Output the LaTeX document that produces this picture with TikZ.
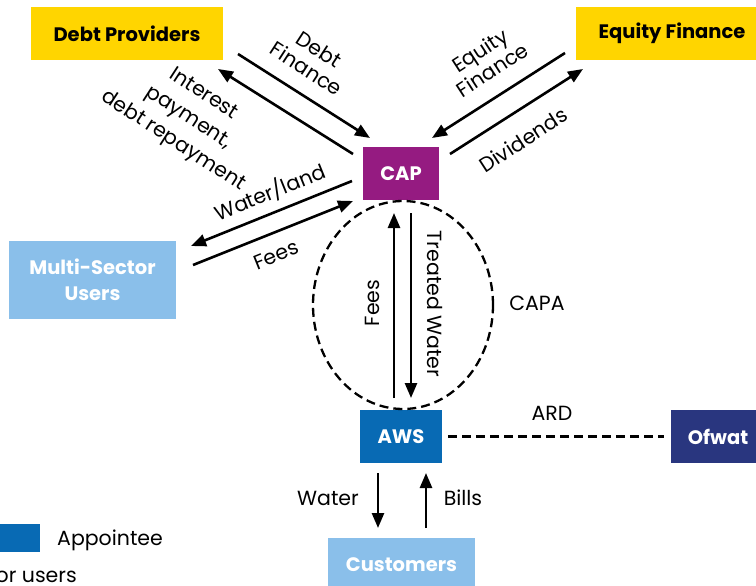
\documentclass[tikz,border=0pt]{standalone}
\usepackage{fontspec}
\setmainfont{Poppins}
\usetikzlibrary{arrows.meta,shapes.geometric}
\definecolor{cyel}{HTML}{FFD500}
\definecolor{cpur}{HTML}{951B81}
\definecolor{clb}{HTML}{8ABFEA}
\definecolor{cblue}{HTML}{086AB4}
\definecolor{cnavy}{HTML}{29367F}
\begin{document}
\begin{tikzpicture}[x=1pt,y=-1pt,
  box/.style={draw=none,inner sep=0pt,font=\bfseries\fontsize{19.5}{26}\selectfont,align=center},
  lbl/.style={font=\fontsize{20.5}{23}\selectfont,inner sep=0pt,align=center},
  arr/.style={line width=2.6pt,-{Triangle[length=15pt,width=12pt]}},
  dash2/.style={line width=2.3pt,dash pattern=on 9pt off 5pt},
]
\clip (0,0) rectangle (756,586);
\fill[white] (0,0) rectangle (756,586);

\node[box,fill=cyel,minimum width=192pt,minimum height=53pt] (debt) at (127,33.5) {Debt Providers};
\node[box,fill=cyel,minimum width=192pt,minimum height=53pt] (equity) at (672,33.5) {Equity Finance};
\node[box,fill=cpur,text=white,minimum width=76pt,minimum height=53pt] (cap) at (401,173.5) {CAP};
\node[box,fill=clb,text=white,minimum width=167pt,minimum height=78pt] (msu) at (92.5,280) {Multi-Sector\\Users};
\node[box,fill=cblue,text=white,minimum width=82pt,minimum height=53pt] (aws) at (401,436.5) {AWS};
\node[box,fill=cnavy,text=white,minimum width=94pt,minimum height=53pt] (ofwat) at (718,436.5) {Ofwat};
\node[box,fill=clb,text=white,minimum width=147pt,minimum height=54pt] (cust) at (401.5,565) {Customers};
\node[box,fill=cblue,minimum width=40pt,minimum height=28pt] (leg) at (20,538) {};
\node[lbl,anchor=west] (legt) at (57,540) {Appointee};
\node[lbl,anchor=east] (legu) at (77,577) {or users};

\node[draw,dash2,ellipse,minimum width=180pt,minimum height=208pt,inner sep=0pt] (capa) at (403,305) {};

\coordinate (d1s) at (238,54);  \coordinate (d1e) at (370,138);
\coordinate (d2s) at (353,154); \coordinate (d2e) at (218,69);
\coordinate (e1s) at (565,53);  \coordinate (e1e) at (432,138);
\coordinate (e2s) at (450,154); \coordinate (e2e) at (583,69);
\coordinate (w1s) at (352,181); \coordinate (w1e) at (191,246);
\coordinate (w2s) at (193,265); \coordinate (w2e) at (353,201);
\coordinate (f1s) at (394,398); \coordinate (f1e) at (394,213);
\coordinate (f2s) at (411,213); \coordinate (f2e) at (411,398);
\coordinate (ws) at (378,473);  \coordinate (we) at (378,528);
\coordinate (bs) at (426,528);  \coordinate (be) at (426,473);

\draw[arr] (d1s) -- (d1e);
\draw[arr] (d2s) -- (d2e);
\draw[arr] (e1s) -- (e1e);
\draw[arr] (e2s) -- (e2e);
\draw[arr] (w1s) -- (w1e);
\draw[arr] (w2s) -- (w2e);
\draw[arr] (f1s) -- (f1e);
\draw[arr] (f2s) -- (f2e);
\draw[arr] (ws) -- (we);
\draw[arr] (bs) -- (be);
\draw[dash2] ([xshift=6pt]aws.east) -- ([xshift=-7pt]ofwat.west);

\node[lbl,rotate=-33] (ldf) at (313,59) {Debt\\Finance};
\node[lbl,rotate=-33,font=\fontsize{20.5}{28}\selectfont] (lint) at (188,118) {Interest\\payment,\\debt repayment};
\node[lbl,rotate=33] (lef) at (486,60) {Equity\\Finance};
\node[lbl,rotate=33] (ldiv) at (523,140) {Dividends};
\node[lbl,rotate=22] (lwl) at (270,192) {Water/land};
\node[lbl,rotate=22] (lfm) at (276,255) {Fees};
\node[lbl,rotate=90] (lfv) at (372,303) {Fees};
\node[lbl,rotate=-90] (ltw) at (435,304) {Treated Water};
\node[lbl] (lcapa) at (537,303) {CAPA};
\node[lbl] (lard) at (552,413) {ARD};
\node[lbl] (lwat) at (328,498) {Water};
\node[lbl] (lbil) at (463,498) {Bills};
\end{tikzpicture}
\end{document}
